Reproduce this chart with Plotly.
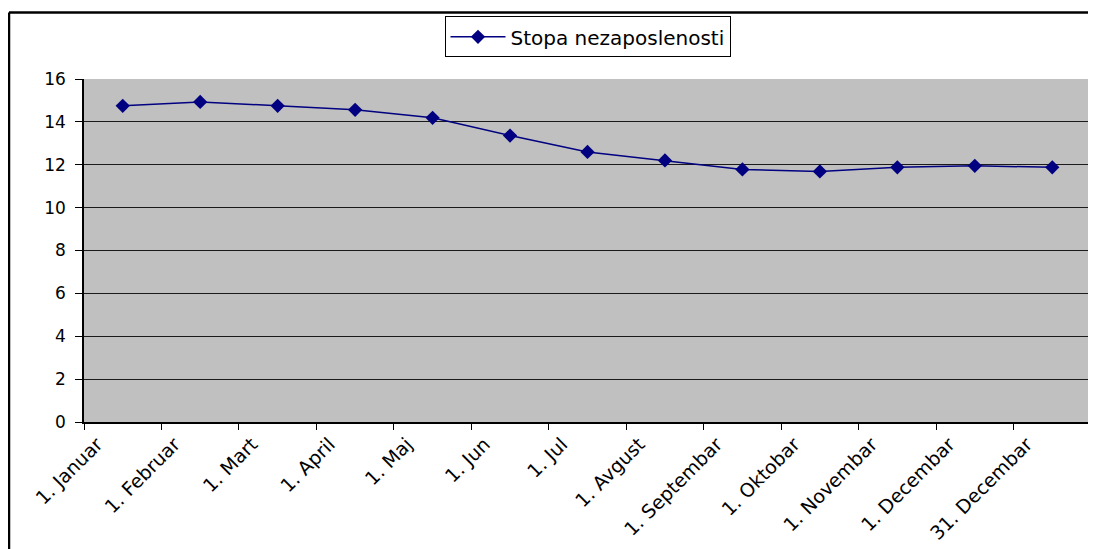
import plotly.graph_objects as go

categories = ["1. Januar", "1. Februar", "1. Mart", "1. April", "1. Maj", "1. Jun",
              "1. Jul", "1. Avgust", "1. Septembar", "1. Oktobar", "1. Novembar",
              "1. Decembar", "31. Decembar"]
stopa = [14.75, 14.93, 14.75, 14.56, 14.19, 13.36, 12.6, 12.2, 11.78, 11.69, 11.88, 11.95, 11.88]
series_name = "Stopa nezaposlenosti"

# page has an 8px body margin, so the figure is a little smaller than the window
W, H = 1088, 541
ML, MR, MT, MB = 76, 5, 71, 125
pw = W - ML - MR
ph = H - MT - MB

idx = list(range(len(categories)))
label_pos = [i - 0.33 for i in idx]
boundaries = [i - 0.5 for i in range(len(categories) + 1)]

fig = go.Figure()
fig.add_trace(go.Scatter(
    x=idx, y=stopa, mode="lines+markers", name=series_name,
    line=dict(color="#000080", width=1.5),
    marker=dict(symbol="diamond", size=11, color="#000080"),
))

fig.update_layout(
    width=W, height=H,
    margin=dict(l=ML, r=MR, t=MT, b=MB, pad=0),
    paper_bgcolor="white",
    plot_bgcolor="#C0C0C0",
    font=dict(family="DejaVu Sans", size=17, color="black"),
    showlegend=True,
    legend=dict(
        x=0.5, xanchor="center", y=1 + (MT - 8) / ph, yanchor="top",
        bgcolor="white", bordercolor="black", borderwidth=1,
        font=dict(family="DejaVu Sans", size=20, color="black"),
        itemwidth=55,
    ),
    xaxis=dict(
        range=[-0.5, len(categories) - 0.5],
        tickmode="array", tickvals=label_pos, ticktext=categories,
        tickangle=-45, ticks="", showgrid=False, zeroline=False,
        showline=True, linecolor="black", linewidth=1.5,
        tickfont=dict(family="DejaVu Sans", size=19, color="black"),
        ticklabelstandoff=2,
        minor=dict(tickmode="array", tickvals=boundaries, ticks="outside",
                   ticklen=6, tickcolor="black", tickwidth=1, showgrid=False),
    ),
    yaxis=dict(
        range=[0, 16], dtick=2, tick0=0,
        ticks="outside", ticklen=7, tickcolor="black", tickwidth=1,
        showgrid=True, gridcolor="#1a1a1a", gridwidth=1,
        zeroline=False, showline=True, linecolor="black", linewidth=1.5,
        tickfont=dict(family="DejaVu Sans", size=17, color="black"),
        ticklabelstandoff=6,
    ),
    shapes=[
        # right border of plot area
        dict(type="line", xref="paper", yref="paper", x0=1, x1=1, y0=0, y1=1,
             line=dict(color="#808080", width=1.5)),
        # outer frame: top and left edges
        dict(type="line", xref="paper", yref="paper",
             x0=(1 - ML) / pw, x1=(W + 5 - ML) / pw,
             y0=(H - MB - 4) / ph, y1=(H - MB - 4) / ph,
             line=dict(color="black", width=2.5)),
        dict(type="line", xref="paper", yref="paper",
             x0=(1 - ML) / pw, x1=(1 - ML) / pw,
             y0=(H - MB - 4) / ph, y1=(H - MB - H - 5) / ph,
             line=dict(color="black", width=2.5)),
    ],
)

fig.write_html("out.html")
